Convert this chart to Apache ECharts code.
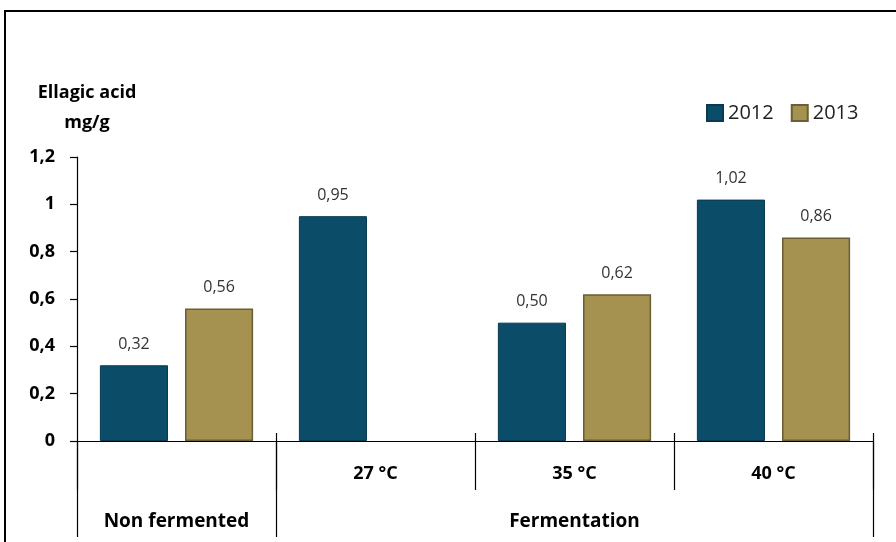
<!DOCTYPE html>
<html>
<head>
<meta charset="utf-8">
<script src="https://cdn.jsdelivr.net/npm/echarts@6/dist/echarts.min.js"></script>
<style>
  html, body { margin: 0; padding: 0; background: #fff; }
  #chart { width: 896px; height: 542px; }
</style>
</head>
<body>
<div id="chart"></div>
<script>
  // data
  const temps = ['', '27 °C', '35 °C', '40 °C']
  const groups = ['Non fermented', 'Fermentation']
  const v2012 = [0.32, 0.95, 0.50, 1.02]
  const v2013 = [0.56, null, 0.62, 0.86]
  const yTicks = [0, 0.2, 0.4, 0.6, 0.8, 1, 1.2]

  const comma = v => String(v).replace('.', ',')
  const font = '"Open Sans", Lato, sans-serif'

  const myChart = echarts.init(document.getElementById('chart'))
  myChart.setOption({
    animation: false,
    textStyle: { fontFamily: font },
    title: {
      text: 'Ellagic acid\nmg/g',
      left: 82,
      top: 73,
      textAlign: 'center',
      textStyle: { fontSize: 18, fontWeight: 'bold', color: '#000', lineHeight: 30, fontFamily: font }
    },
    legend: {
      data: ['2012', '2013'],
      left: 701,
      top: 98,
      icon: 'rect',
      itemWidth: 16,
      itemHeight: 16,
      itemGap: 17,
      textStyle: { fontSize: 20, color: '#222', fontFamily: font }
    },
    grid: { left: 77, right: 23, top: 157, bottom: 101 },
    xAxis: [
      {
        type: 'category',
        data: temps,
        axisLine: { lineStyle: { color: '#000', width: 1.2 } },
        axisTick: { show: true, length: 49, lineStyle: { color: '#000', width: 1.2 } },
        axisLabel: { margin: 24, fontSize: 18, fontWeight: 'bold', color: '#000' }
      },
      {
        // outer level of the category axis
        type: 'value',
        position: 'bottom',
        min: 0,
        max: 4,
        splitLine: { show: false },
        axisLine: { show: false },
        axisTick: { show: true, length: 96, customValues: [0, 1, 4], lineStyle: { color: '#000', width: 1.2 } },
        axisLabel: {
          customValues: [0.5, 2.5],
          margin: 71,
          fontSize: 19,
          fontWeight: 'bold',
          color: '#000',
          formatter: v => (v < 1 ? groups[0] : groups[1])
        }
      },
      {
        // small ticks poking above the axis at group borders
        type: 'value',
        position: 'bottom',
        min: 0,
        max: 4,
        splitLine: { show: false },
        axisLine: { show: false },
        axisLabel: { show: false },
        axisTick: { show: true, inside: true, length: 8, customValues: [1, 2, 3, 4], lineStyle: { color: '#000', width: 1.2 } }
      }
    ],
    yAxis: {
      type: 'value',
      min: 0,
      max: 1.2,
      interval: 0.2,
      splitLine: { show: false },
      axisLine: { show: true, lineStyle: { color: '#000', width: 1.2 } },
      axisTick: { show: true, length: 7, lineStyle: { color: '#000', width: 1.2 } },
      axisLabel: {
        margin: 22,
        fontSize: 18,
        fontWeight: 'bold',
        color: '#000',
        formatter: v => comma(yTicks.find(t => Math.abs(t - v) < 1e-6) ?? v)
      }
    },
    series: [
      {
        name: '2012',
        type: 'bar',
        data: v2012,
        barGap: '25%',
        barCategoryGap: '23%',
        itemStyle: { color: '#0b4d68', borderColor: '#093a50', borderWidth: 1 },
        label: {
          show: true, position: 'top', distance: 13, fontSize: 16, color: '#333',
          formatter: p => comma(p.value.toFixed(2))
        }
      },
      {
        name: '2013',
        type: 'bar',
        data: v2013,
        itemStyle: { color: '#a69250', borderColor: '#6b5d34', borderWidth: 1.5 },
        label: {
          show: true, position: 'top', distance: 13, fontSize: 16, color: '#333',
          formatter: p => comma(p.value.toFixed(2))
        }
      }
    ],
    graphic: [
      {
        // frame around the figure
        type: 'polyline',
        shape: { points: [[5, 542], [5, 11], [896, 11]] },
        style: { stroke: '#000', lineWidth: 2, fill: null }
      }
    ]
  })
</script>
</body>
</html>
